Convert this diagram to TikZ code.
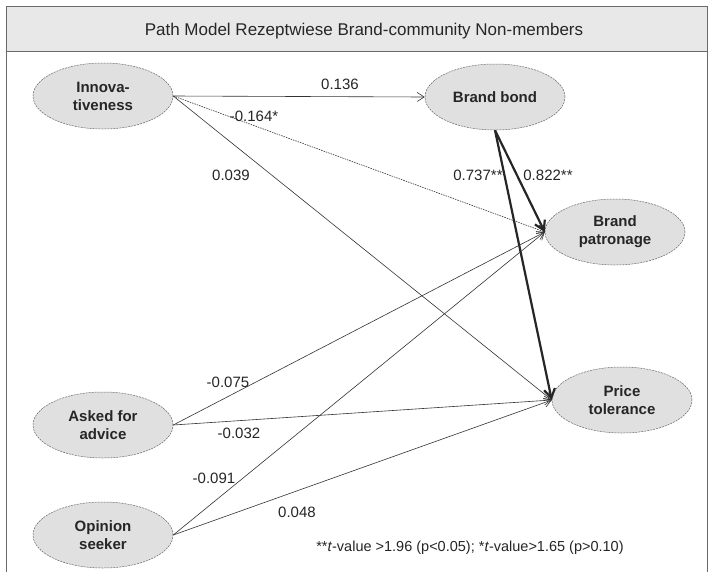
\documentclass[tikz,border=0pt]{standalone}
\usepackage{fontspec}
\setmainfont{Liberation Sans}
\usetikzlibrary{shapes.geometric,arrows.meta}
\definecolor{nodefill}{HTML}{E0E0E0}
\definecolor{barfill}{HTML}{E8E8E8}
\definecolor{framecol}{HTML}{6A6A6A}
\begin{document}
\begin{tikzpicture}[x=1pt,y=-1pt,
  latent/.style={ellipse,draw=gray!80!black,fill=nodefill,dash pattern=on 2pt off 1pt,
    line width=0.5pt,minimum width=140pt,minimum height=66pt,align=center,
    font=\fontsize{15}{18}\selectfont\bfseries,text=black!85,inner sep=0pt},
  thinarr/.style={draw=black!80,line width=0.6pt,-{Straight Barb[length=7pt,width=9pt]}},
  dasharr/.style={thinarr,dash pattern=on 1.5pt off 1pt},
  thickarr/.style={draw=black!85,line width=2.2pt,-{Straight Barb[length=9pt,width=11pt]}},
  coef/.style={font=\fontsize{15}{17}\selectfont,text=black!85,inner sep=1pt}]
\useasboundingbox (0,0) rectangle (715,571);
\fill[white] (0,0) rectangle (715,571);
% frame and title bar
\fill[barfill] (6,6) rectangle (707,51);
\draw[framecol,line width=0.8pt] (6,590) -- (6,6) -- (707,6) -- (707,590);
\draw[framecol,line width=0.8pt] (6,51) -- (707,51);
\node[font=\fontsize{17}{19}\selectfont,text=black!85] (title) at (364,31) {Path Model Rezeptwiese Brand-community Non-members};
% nodes
\node[latent] (inn) at (103,96) {Innova-\\tiveness};
\node[latent] (bb) at (495,97) {Brand bond};
\node[latent] (bp) at (615,232) {Brand\\patronage};
\node[latent] (pt) at (622,400) {Price\\tolerance};
\node[latent] (afa) at (103,425) {Asked for\\advice};
\node[latent] (os) at (103,535) {Opinion\\seeker};
% edges
\draw[thinarr] (inn.east) -- (bb.west);
\draw[dasharr] (inn.east) -- (bp.west);
\draw[thinarr] (inn.east) -- (pt.west);
\draw[thickarr] (bb.south) -- (bp.west);
\draw[thickarr] (bb.south) -- (pt.west);
\draw[thinarr] (afa.east) -- (bp.west);
\draw[thinarr] (afa.east) -- (pt.west);
\draw[thinarr] (os.east) -- (bp.west);
\draw[thinarr] (os.east) -- (pt.west);
% coefficients
\node[coef] (c1) at (340,84) {0.136};
\node[coef] (c2) at (254,116) {-0.164*};
\node[coef] (c3) at (231,175) {0.039};
\node[coef] (c4) at (478,175) {0.737**};
\node[coef] (c5) at (548,175) {0.822**};
\node[coef] (c6) at (228,382) {-0.075};
\node[coef] (c7) at (239,433) {-0.032};
\node[coef] (c8) at (214,478) {-0.091};
\node[coef] (c9) at (297,512) {0.048};
\node[coef,font=\fontsize{14.5}{16}\selectfont] (note) at (470,548) {**\textit{t}-value >1.96 (p<0.05); *\textit{t}-value>1.65 (p>0.10)};
\end{tikzpicture}
\end{document}
